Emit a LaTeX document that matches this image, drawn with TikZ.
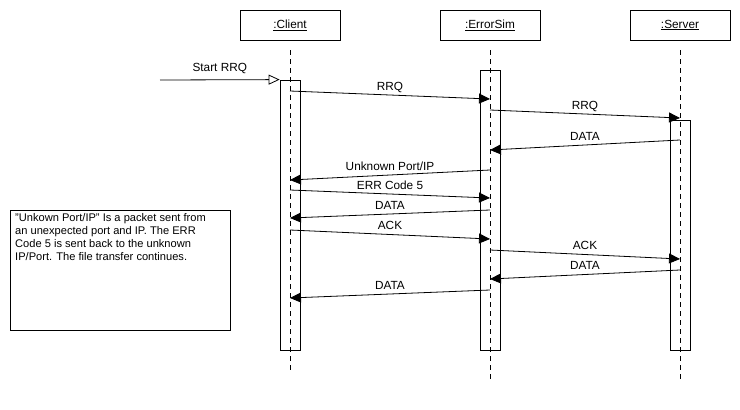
\documentclass[tikz,border=0pt]{standalone}
\usepackage{fontspec}
\setmainfont{Liberation Sans}
\usetikzlibrary{arrows.meta}
\begin{document}
\begin{tikzpicture}[x=1pt,y=-1pt,
  font=\fontsize{11.8}{14}\selectfont,
  objbox/.style={draw, minimum width=100pt, minimum height=30pt, inner sep=0pt, fill=white},
  lifeline/.style={dash pattern=on 5pt off 4pt, line width=0.8pt},
  actbar/.style={draw, line width=0.8pt},
  msg/.style={line width=0.8pt, -{Triangle[length=11pt,width=10pt]}},
  msglabel/.style={anchor=base, yshift=5pt, inner sep=0pt},
  startmsg/.style={line width=0.8pt, -{Triangle[open,length=11pt,width=10pt,fill=white]}},
  notebox/.style={draw, line width=0.8pt, minimum width=220pt, minimum height=120pt, inner sep=0pt}
]
\useasboundingbox (0,0) rectangle (740,410);

% objects
\node[objbox] (client) at (290,25) {\underline{:Client}};
\node[objbox] (errsim) at (490,25) {\underline{:ErrorSim}};
\node[objbox] (server) at (680,25) {\underline{:Server}};

% activation bars
\node[actbar, minimum width=20pt, minimum height=270pt, inner sep=0pt] (cbar) at (290,215) {};
\node[actbar, minimum width=20pt, minimum height=280pt, inner sep=0pt] (ebar) at (490,210) {};
\node[actbar, minimum width=20pt, minimum height=230pt, inner sep=0pt] (sbar) at (680,235) {};

% lifelines
\coordinate (cl1) at (290,50); \coordinate (cl2) at (290,370);
\coordinate (el1) at (490,50); \coordinate (el2) at (490,382);
\coordinate (sl1) at (680,50); \coordinate (sl2) at (680,382);
\draw[lifeline] (cl1) -- (cl2);
\draw[lifeline] (el1) -- (el2);
\draw[lifeline] (sl1) -- (sl2);

% start message
\coordinate (start) at (160,80);
\draw[startmsg] (start) -- (cbar.north west) node[pos=0.5, msglabel, yshift=3pt] {Start RRQ};

% message end points
\coordinate (c1) at (290,91);  \coordinate (e1) at (490,99);
\coordinate (e2) at (490,110); \coordinate (s2) at (680,118);
\coordinate (s3) at (680,140); \coordinate (e3) at (490,150);
\coordinate (e4) at (490,170); \coordinate (c4) at (290,180);
\coordinate (c5) at (290,190); \coordinate (e5) at (490,198);
\coordinate (e6) at (490,210); \coordinate (c6) at (290,218);
\coordinate (c7) at (290,230); \coordinate (e7) at (490,239);
\coordinate (e8) at (490,250); \coordinate (s8) at (680,259);
\coordinate (s9) at (680,270); \coordinate (e9) at (490,279);
\coordinate (e10) at (490,290); \coordinate (c10) at (290,298);

\draw[msg] (c1) -- (e1) node[pos=0.5, msglabel] {RRQ};
\draw[msg] (e2) -- (s2) node[pos=0.5, msglabel] {RRQ};
\draw[msg] (s3) -- (e3) node[pos=0.5, msglabel] {DATA};
\draw[msg] (e4) -- (c4) node[pos=0.5, msglabel] {Unknown Port/IP};
\draw[msg] (c5) -- (e5) node[pos=0.5, msglabel] {ERR Code 5};
\draw[msg] (e6) -- (c6) node[pos=0.5, msglabel] {DATA};
\draw[msg] (c7) -- (e7) node[pos=0.5, msglabel] {ACK};
\draw[msg] (e8) -- (s8) node[pos=0.5, msglabel] {ACK};
\draw[msg] (s9) -- (e9) node[pos=0.5, msglabel] {DATA};
\draw[msg] (e10) -- (c10) node[pos=0.5, msglabel] {DATA};

% note
\node[notebox] (note) at (120,270) {};
\node[anchor=north west, align=left, inner sep=0pt, font=\fontsize{11.1}{13}\selectfont] (notetext) at (15,213)
  {"Unkown Port/IP" Is a packet sent from\\an unexpected port and IP. The ERR\\Code 5 is sent back to the unknown\\IP/Port. The file transfer continues.};
\end{tikzpicture}
\end{document}
